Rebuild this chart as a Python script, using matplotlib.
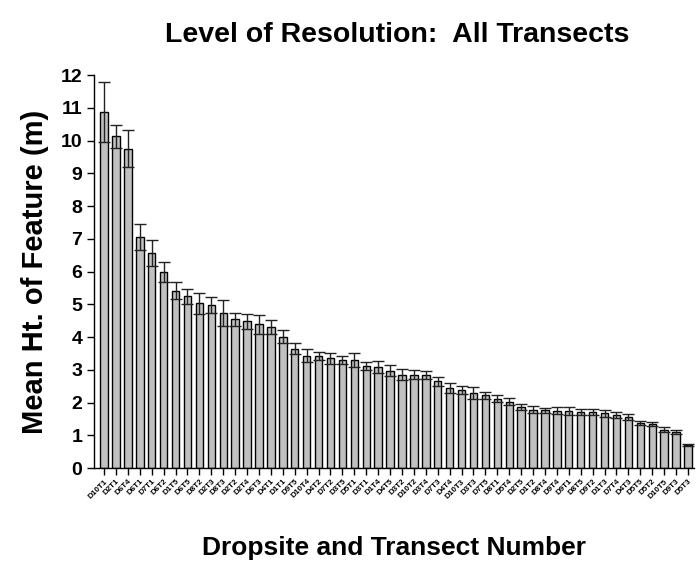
import numpy as np
import matplotlib
matplotlib.use('Agg')
import matplotlib.pyplot as plt

plt.rcParams['font.family'] = ['Liberation Sans', 'DejaVu Sans']
plt.rcParams['font.weight'] = 'bold'

# ================================================
# Mean feature height per dropsite / transect
# ================================================
labels = ['D10T1', 'D2T1', 'D6T4', 'D6T1', 'D7T1', 'D6T2', 'D1T5', 'D6T5', 'D8T2', 'D2T3',
          'D8T3', 'D2T2', 'D2T4', 'D6T3', 'D4T1', 'D1T1', 'D9T5', 'D10T4', 'D4T2', 'D7T2',
          'D3T5', 'D5T1', 'D3T1', 'D1T4', 'D4T5', 'D3T2', 'D10T2', 'D3T4', 'D7T3', 'D4T4',
          'D10T3', 'D3T3', 'D7T5', 'D8T1', 'D5T4', 'D2T5', 'D1T2', 'D8T4', 'D9T4', 'D9T1',
          'D8T5', 'D9T2', 'D1T3', 'D7T4', 'D4T3', 'D5T5', 'D5T2', 'D10T5', 'D9T3', 'D5T3']
means  = [10.88, 10.14, 9.76, 7.06, 6.57, 6.00, 5.42, 5.25, 5.03, 4.98,
          4.73, 4.55, 4.48, 4.39, 4.31, 4.02, 3.65, 3.43, 3.42, 3.35,
          3.30, 3.30, 3.11, 3.10, 2.97, 2.86, 2.86, 2.84, 2.65, 2.45,
          2.39, 2.30, 2.22, 2.12, 2.03, 1.88, 1.79, 1.77, 1.76, 1.74,
          1.71, 1.71, 1.67, 1.63, 1.55, 1.38, 1.34, 1.17, 1.11, 0.70]
errs   = [0.91, 0.35, 0.55, 0.39, 0.40, 0.31, 0.25, 0.23, 0.32, 0.24,
          0.39, 0.20, 0.23, 0.30, 0.21, 0.19, 0.17, 0.20, 0.12, 0.18,
          0.13, 0.22, 0.12, 0.18, 0.17, 0.16, 0.15, 0.13, 0.14, 0.16,
          0.12, 0.18, 0.11, 0.10, 0.10, 0.09, 0.10, 0.08, 0.11, 0.13,
          0.09, 0.09, 0.10, 0.09, 0.09, 0.07, 0.06, 0.08, 0.06, 0.03]
# ================================================

x = np.arange(len(labels))

fig = plt.figure(figsize=(6.96, 5.78), dpi=100)
ax = fig.add_axes([0.135, 0.19, 0.862, 0.68])

ax.bar(x, means, width=0.62, color='#c0c0c0', edgecolor='black', lw=1, zorder=2)
ax.errorbar(x, means, yerr=errs, fmt='none', ecolor='#222222', elinewidth=1,
            capsize=4, capthick=1, zorder=3)

ax.set_xlim(-0.85, len(labels) - 0.5)
ax.set_ylim(0, 12)
ax.set_yticks(range(0, 13))
ax.tick_params(axis='y', labelsize=14, direction='out', length=5, width=1)
ax.set_xticks(x)
ax.set_xticklabels(labels, rotation=45, ha='right', rotation_mode='anchor', fontsize=5.8)
ax.tick_params(axis='x', direction='out', length=5, width=1, pad=2)
for s in ['top', 'right']:
    ax.spines[s].set_visible(False)
for s in ['left', 'bottom']:
    ax.spines[s].set_linewidth(1)

ax.set_ylabel('Mean Ht. of Feature (m)', fontsize=21, fontweight='bold', labelpad=8)
ax.set_xlabel('Dropsite and Transect Number', fontsize=19, fontweight='bold', labelpad=26)
fig.text(0.57, 0.94, 'Level of Resolution:  All Transects', fontsize=20.5,
         fontweight='bold', ha='center', va='center')

plt.savefig('out.png', dpi=100)
plt.close()
